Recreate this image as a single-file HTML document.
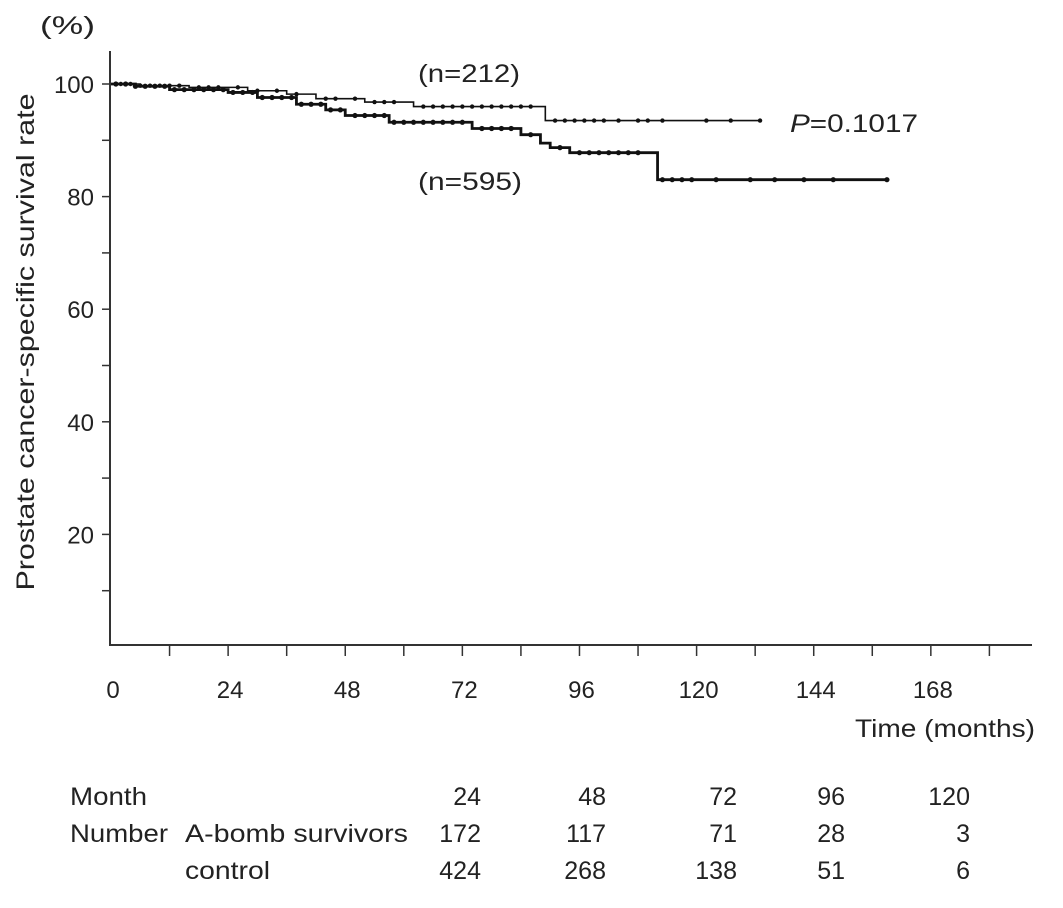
<!DOCTYPE html>
<html><head><meta charset="utf-8"><style>
body{margin:0;background:#fff;}
svg{display:block;font-family:"Liberation Sans",sans-serif;}
text{fill:#222;}
</style></head><body>
<svg id="chart" width="1063" height="908">
<g id="axes"></g><g id="curves"></g><g id="labels"></g>
<g font-size="25">
<text x="40" y="34" textLength="55" lengthAdjust="spacingAndGlyphs">(%)</text>
<text transform="translate(34,342) rotate(-90)" text-anchor="middle" textLength="497" lengthAdjust="spacingAndGlyphs">Prostate cancer-specific survival rate</text>
<text x="1035" y="737" text-anchor="end" textLength="180" lengthAdjust="spacingAndGlyphs">Time (months)</text>
<text x="418" y="82" textLength="102" lengthAdjust="spacingAndGlyphs">(n=212)</text>
<text x="418" y="190" textLength="104" lengthAdjust="spacingAndGlyphs">(n=595)</text>
<text x="790" y="132" textLength="128" lengthAdjust="spacingAndGlyphs"><tspan font-style="italic">P</tspan>=0.1017</text>
<g>
<text x="70" y="805" textLength="77" lengthAdjust="spacingAndGlyphs">Month</text>
<text x="70" y="842" textLength="98" lengthAdjust="spacingAndGlyphs">Number</text>
<text x="185" y="842" textLength="223" lengthAdjust="spacingAndGlyphs">A-bomb survivors</text>
<text x="185" y="879" textLength="85" lengthAdjust="spacingAndGlyphs">control</text>
<g text-anchor="end">
<text x="481" y="805">24</text><text x="606" y="805">48</text><text x="737" y="805">72</text><text x="845" y="805">96</text><text x="970" y="805">120</text>
<text x="481" y="842">172</text><text x="606" y="842">117</text><text x="737" y="842">71</text><text x="845" y="842">28</text><text x="970" y="842">3</text>
<text x="481" y="879">424</text><text x="606" y="879">268</text><text x="737" y="879">138</text><text x="845" y="879">51</text><text x="970" y="879">6</text>
</g></g></g>
</svg>
<script>
const xTicks=[0,24,48,72,96,120,144,168];
const yTicks=[20,40,60,80,100];
// A-bomb survivors (n=212): [time, survival]
const survA=[[0,100],[6,99.7],[16,99.4],[28,98.8],[36,98.2],[42,97.4],[52,96.8],[62,96.0],[89,93.5],[133,93.5]];
const censA=[2,4,6,8,10,12,14,18,20,22,26,30,34,38,44,46,50,54,56,58,64,66,68,70,72,74,76,78,80,82,84,86,91,93,95,97,99,101,104,108,110,113,122,127,133];
// control (n=595)
const survB=[[0,100],[5,99.6],[12,99.0],[24,98.5],[30,97.6],[38,96.4],[44,95.4],[48,94.4],[57,93.2],[74,92.1],[84,91.0],[88,89.5],[90,88.7],[94,87.8],[112,83.0],[159,83.0]];
const censB=[1,3,5,7,9,11,13,15,17,19,21,23,25,27,29,31,33,35,37,39,41,43,45,47,50,52,54,56,58,60,62,64,66,68,70,72,76,78,80,82,86,92,96,98,100,102,104,106,108,113,115,117,119,124,131,136,142,148,159];
const X=t=>111+t*4.88, Y=v=>647-v*5.63;
const ns="http://www.w3.org/2000/svg";
function mk(tag,attrs,parent,txt){const e=document.createElementNS(ns,tag);for(const k in attrs)e.setAttribute(k,attrs[k]);if(txt!==undefined)e.textContent=txt;document.getElementById(parent).appendChild(e);return e;}
let e=mk('line',{x1:110,y1:51,x2:110,y2:646,stroke:'#333','stroke-width':2},'axes');


e=mk('line',{x1:109,y1:645,x2:1032,y2:645,stroke:'#333','stroke-width':2},'axes');


for(let v=10;v<=100;v+=10){e=mk('line',{x1:102,y1:Y(v),x2:110,y2:Y(v),stroke:'#333','stroke-width':1.5},'axes');

}
yTicks.forEach(v=>{e=mk('text',{x:94,y:Y(v)+9,'font-size':24,'text-anchor':'end'},'labels',String(v));

});
for(let t=12;t<=180;t+=12){e=mk('line',{x1:X(t),y1:645,x2:X(t),y2:656,stroke:'#333','stroke-width':1.5},'axes');

}
xTicks.forEach(t=>{e=mk('text',{x:X(t)+2,y:698,'font-size':24,'text-anchor':'middle'},'labels',String(t));

});
function level(s,t){let v=s[0][1];for(const p of s){if(p[0]<=t)v=p[1];}return v;}
function drawCurve(s,c,w,name){let d='M'+X(s[0][0])+','+Y(s[0][1]);
for(let i=1;i<s.length;i++){d+=' H'+X(s[i][0])+' V'+Y(s[i][1]);}
e=mk('path',{d:d,fill:'none',stroke:'#111','stroke-width':w},'curves');


c.forEach(t=>{e=mk('circle',{cx:X(t),cy:Y(level(s,t)),r:w>2?2.6:2.2,fill:'#111'},'curves');

});}
drawCurve(survA,censA,1.6,'curve-a-bomb');
drawCurve(survB,censB,2.8,'curve-control');
</script>
</body></html>
